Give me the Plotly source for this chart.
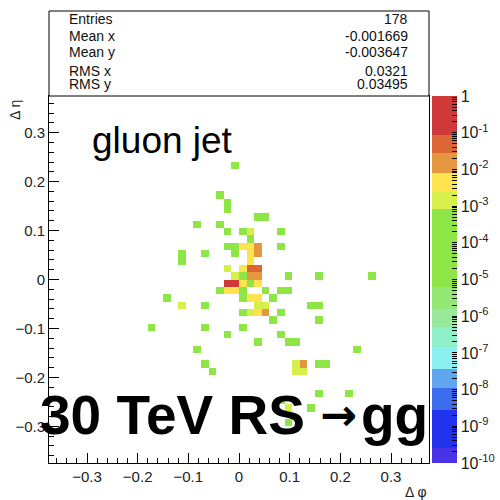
import numpy as np
import plotly.graph_objects as go

# ---- data: cell centres (delta phi, delta eta) and energy fraction ----
G, YG, Y, O, OR, R = 3e-4, 1.5e-3, 5e-3, 2e-2, 5e-2, 0.2

dphi = [
    -0.0075,
    -0.0375,
    -0.0225,
    -0.0225,
    0.0375, 0.0525,
    -0.0825, -0.0375,
    -0.0225, 0.0075, 0.0225, 0.0825,
    0.0225,
    -0.0225, -0.0075, 0.0075, 0.0225, 0.0375, 0.0825,
    -0.1125, -0.0675, -0.0075, 0.0225, 0.0375,
    -0.1125, 0.0225,
    -0.0225, 0.0075, 0.0225, 0.0375,
    -0.0075, 0.0075, 0.0225, 0.0375, 0.0975, 0.1575, 0.2625,
    -0.0225, -0.0075, 0.0075, 0.0225, 0.0375,
    -0.0375, -0.0225, -0.0075, 0.0075, 0.0525, 0.0825, 0.0975,
    -0.1425, 0.0075, 0.0225, 0.0375, 0.0675,
    -0.1125, -0.0675, 0.0375, 0.0525, 0.1425, 0.1575,
    0.0075, 0.0225, 0.0375, 0.0525, 0.0825,
    0.0675, 0.1575,
    -0.1725, -0.0675, 0.0075,
    -0.0225, 0.0825,
    0.0375, 0.0975, 0.1125,
    -0.0825, 0.2325,
    -0.0675, 0.1125, 0.1275, 0.1575, 0.1725,
    -0.0525, 0.1125, 0.1275,
    0.1575, 0.2175,
    0.0825,
    0.0975, 0.1425,
    0.0975,
]
deta = (
    [0.2325] * 1 + [0.1725] * 1 + [0.1575] * 1 + [0.1425] * 1 + [0.1275] * 2
    + [0.1125] * 2 + [0.0975] * 4 + [0.0825] * 1 + [0.0675] * 6 + [0.0525] * 5
    + [0.0375] * 2 + [0.0225] * 4 + [0.0075] * 7 + [-0.0075] * 5 + [-0.0225] * 7
    + [-0.0375] * 5 + [-0.0525] * 6 + [-0.0675] * 5 + [-0.0825] * 2 + [-0.0975] * 3
    + [-0.1125] * 2 + [-0.1275] * 3 + [-0.1425] * 2 + [-0.1725] * 5 + [-0.1875] * 3
    + [-0.2325] * 2 + [-0.2475] * 1 + [-0.2625] * 2 + [-0.2925] * 1
)
energy = [
    G,
    G,
    G,
    G,
    G, G,
    G, G,
    G, G, YG, G,
    G,
    G, G, Y, Y, O, G,
    G, G, G, Y, O,
    G, Y,
    YG, Y, OR, OR,
    YG, G, O, O, G, G, G,
    R, R, Y, G, Y,
    G, Y, Y, G, G, G, G,
    G, G, Y, Y, G,
    YG, G, YG, YG, G, G,
    G, YG, Y, O, G,
    G, G,
    G, G, G,
    G, G,
    G, G, G,
    G, G,
    G, YG, O, G, G,
    G, YG, YG,
    G, G,
    G,
    YG, G,
    G,
]

cbar_vals = list(range(-10, 1))
cbar_text = ["10<sup>%d</sup>" % v if v != 0 else "1" for v in cbar_vals]
stats_names = ["Entries", "Mean x", "Mean y", "RMS x", "RMS y"]
stats_vals = ["178", "-0.001669", "-0.003647", "0.0321", "0.03495"]

# ---- binning ----
nb = 50
lo, hi = -0.375, 0.375
w = (hi - lo) / nb
centers = lo + w * (np.arange(nb) + 0.5)
z = np.full((nb, nb), np.nan)
for px, py, e in zip(dphi, deta, energy):
    i = int(round((px - lo) / w - 0.5))
    j = int(round((py - lo) / w - 0.5))
    z[j, i] = np.log10(e)

bands = [
    (-10, -9.6, "#4a32e6"),
    (-9.6, -8.55, "#2233ee"),
    (-8.55, -7.95, "#3d6cee"),
    (-7.95, -7.45, "#5fa6ef"),
    (-7.45, -6.85, "#8af0f2"),
    (-6.85, -6.3, "#8eefc8"),
    (-6.3, -5.8, "#98e99c"),
    (-5.8, -5.2, "#92e872"),
    (-5.2, -3.08, "#8ee646"),
    (-3.08, -2.62, "#d7ef4a"),
    (-2.62, -2.1, "#fde34e"),
    (-2.1, -1.54, "#e4973e"),
    (-1.54, -1.07, "#dc6535"),
    (-1.07, 0, "#d0393a"),
]
cs = []
for a, b, c in bands:
    cs.append([(a + 10) / 10, c])
    cs.append([(b + 10) / 10, c])

minor_logs = []
for d in range(-10, 0):
    for m in range(2, 10):
        minor_logs.append(d + np.log10(m))

FONT = "Liberation Sans, Arial, Helvetica"

fig = go.Figure()
fig.add_trace(go.Heatmap(
    x=centers, y=centers, z=z, zmin=-10, zmax=0, colorscale=cs,
    hoverinfo="skip",
    colorbar=dict(
        thickness=25, thicknessmode="pixels",
        len=367 / 500, lenmode="fraction",
        x=432 / 500, xanchor="left", y=37 / 500, yanchor="bottom",
        xpad=0, ypad=0, outlinewidth=0,
        tickmode="array",
        tickvals=cbar_vals + minor_logs,
        ticktext=cbar_text + [""] * len(minor_logs),
        ticks="inside", ticklen=5, tickcolor="black", tickwidth=1,
        tickfont=dict(family=FONT, size=16, color="#222"),
    ),
))

axis_common = dict(
    range=[lo, hi], showgrid=False, zeroline=False,
    showline=True, linecolor="black", linewidth=1, mirror=True,
    ticks="inside", ticklen=10, tickcolor="black", tickwidth=1,
    dtick=0.1, tick0=0,
    minor=dict(dtick=0.02, tick0=0, ticks="inside", ticklen=5, tickcolor="black"),
    tickfont=dict(family=FONT, size=15, color="#222"),
)
fig.update_layout(
    width=500, height=500,
    margin=dict(l=0, r=0, t=0, b=0),
    paper_bgcolor="white", plot_bgcolor="white",
    xaxis=dict(domain=[49 / 500, 429 / 500], **axis_common),
    yaxis=dict(domain=[37 / 500, 404 / 500], **axis_common),
    showlegend=False,
)

# stats box
fig.add_shape(type="rect", xref="paper", yref="paper",
              x0=49 / 500, x1=429 / 500, y0=404 / 500, y1=489 / 500,
              line=dict(color="black", width=1), fillcolor="white")
rows_y = [19, 36, 52, 71, 84]
for name, val, yy in zip(stats_names, stats_vals, rows_y):
    fig.add_annotation(xref="paper", yref="paper", x=67 / 500, y=1 - yy / 500,
                       text=name, showarrow=False, xanchor="left", yanchor="middle",
                       font=dict(family=FONT, size=14, color="#111"))
    fig.add_annotation(xref="paper", yref="paper", x=410 / 500, y=1 - yy / 500,
                       text=val, showarrow=False, xanchor="right", yanchor="middle",
                       font=dict(family=FONT, size=14, color="#111"))

# axis titles
fig.add_annotation(xref="paper", yref="paper", x=15 / 500, y=1 - 110 / 500,
                   text="Δ η", textangle=-90, showarrow=False,
                   xanchor="center", yanchor="middle",
                   font=dict(family=FONT, size=14, color="#222"))
fig.add_annotation(xref="paper", yref="paper", x=429 / 500, y=1 - 492 / 500,
                   text="Δ φ", showarrow=False, xanchor="right", yanchor="middle",
                   font=dict(family=FONT, size=14, color="#222"))

# labels
fig.add_annotation(xref="paper", yref="paper", x=90 / 500, y=1 - 140 / 500,
                   text="gluon jet", showarrow=False, xanchor="left", yanchor="middle",
                   font=dict(family=FONT, size=37, color="black"))
fig.add_annotation(xref="paper", yref="paper", x=38 / 500, y=1 - 415 / 500,
                   text="<b>30 TeV RS</b>", showarrow=False,
                   xanchor="left", yanchor="middle",
                   font=dict(family=FONT, size=55, color="black"))
fig.add_annotation(xref="paper", yref="paper", x=338 / 500, y=1 - 414 / 500,
                   text="<b>→</b>", showarrow=False,
                   xanchor="center", yanchor="middle",
                   font=dict(family="DejaVu Sans", size=44, color="black"))
fig.add_annotation(xref="paper", yref="paper", x=430 / 500, y=1 - 415 / 500,
                   text="<b>gg</b>", showarrow=False,
                   xanchor="right", yanchor="middle",
                   font=dict(family=FONT, size=55, color="black"))

fig.write_html("out.html")
